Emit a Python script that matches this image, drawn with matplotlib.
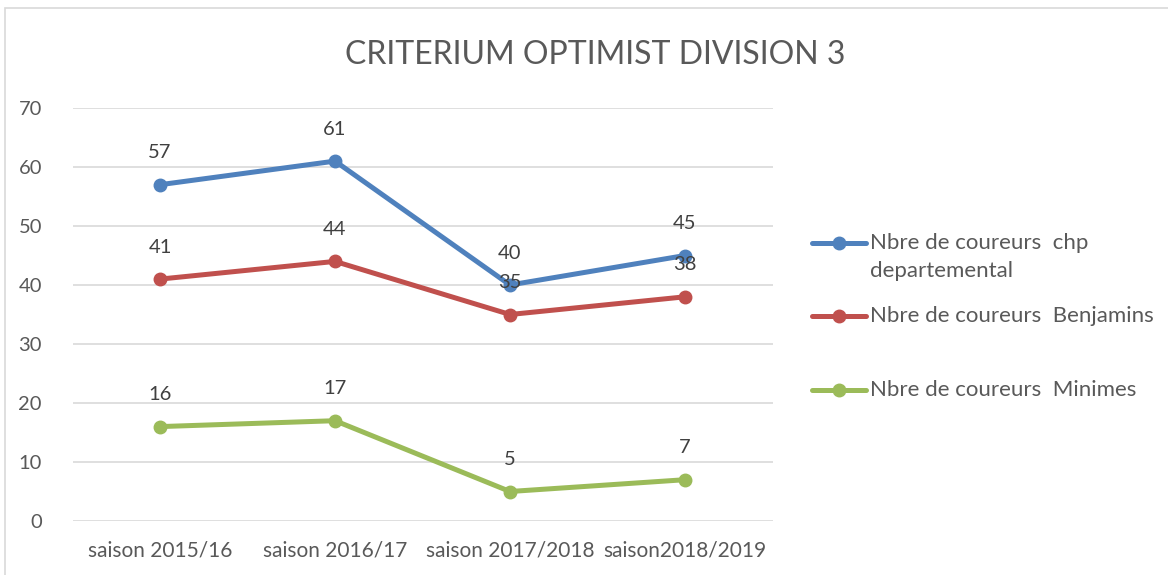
import matplotlib
matplotlib.use("Agg")
import matplotlib.pyplot as plt
from matplotlib.lines import Line2D
from matplotlib.patches import Rectangle

categories = ["saison 2015/16", "saison 2016/17", "saison 2017/2018", "saison2018/2019"]
series_names = ["Nbre de coureurs  chp\ndepartemental", "Nbre de coureurs  Benjamins", "Nbre de coureurs  Minimes"]
chp_values = [57, 61, 40, 45]
benjamins_values = [41, 44, 35, 38]
minimes_values = [16, 17, 5, 7]
yticks = [0, 10, 20, 30, 40, 50, 60, 70]
title = "CRITERIUM OPTIMIST DIVISION 3"

colors = ["#4F81BD", "#C0504D", "#9BBB59"]
text_color = "#595959"
font = "Lato"

fig = plt.figure(figsize=(11.68, 5.75), dpi=100)
ax = fig.add_axes([72.5 / 1168, 1 - 521 / 575, 700 / 1168, 413 / 575])

x = list(range(len(categories)))
all_series = [chp_values, benjamins_values, minimes_values]
for vals, col in zip(all_series, colors):
    ax.plot(x, vals, color=col, lw=3.6, marker="o", markersize=9, solid_capstyle="round", zorder=3)
    for xi, v in zip(x, vals):
        ax.annotate(str(v), (xi, v), xytext=(0, 23), textcoords="offset points",
                    ha="center", va="center", fontsize=14.5, color="#404040",
                    family=font, zorder=4)

ax.set_xlim(-0.5, len(categories) - 0.5)
ax.set_ylim(0, 70)
ax.set_yticks(yticks)
ax.set_xticks(x)
ax.set_xticklabels(categories, family=font, fontsize=15, color=text_color)
ax.set_yticklabels([str(t) for t in yticks], family=font, fontsize=14.5, color=text_color)
ax.grid(axis="y", color="#D9D9D9", lw=1.2, zorder=0)
for s in ax.spines.values():
    s.set_visible(False)
ax.tick_params(length=0)
ax.tick_params(axis="x", pad=14)
ax.tick_params(axis="y", pad=22)

fig.text(595 / 1168, 1 - 55 / 575, title, ha="center", va="center",
         fontsize=23, color=text_color, family=font)

# legend
leg_y = [243, 316, 390]
for name, col, yy in zip(series_names, colors, leg_y):
    yf = 1 - yy / 575
    fig.add_artist(Line2D([812 / 1168, 866 / 1168], [yf, yf], color=col, lw=3.6,
                          transform=fig.transFigure, solid_capstyle="round"))
    fig.add_artist(Line2D([839 / 1168], [yf], color=col, marker="o", markersize=9,
                          transform=fig.transFigure))
    lines = name.split("\n")
    for i, line in enumerate(lines):
        fig.text(870 / 1168, 1 - (yy + 28 * i) / 575, line, ha="left", va="center",
                 fontsize=16, color=text_color, family=font)

fig.add_artist(Rectangle((5 / 1168, -0.1), 1.2, 1 - 8 / 575 + 0.1, fill=False,
                         edgecolor="#D9D9D9", lw=1.2, transform=fig.transFigure))

fig.savefig("out.png", dpi=100)
